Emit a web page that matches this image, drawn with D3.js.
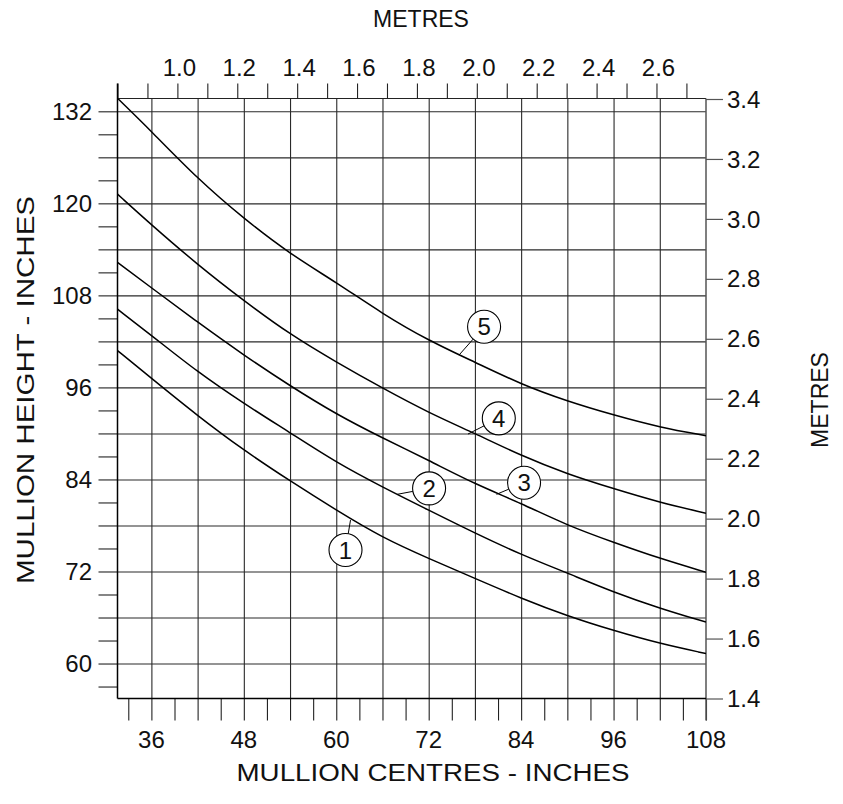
<!DOCTYPE html>
<html>
<head>
<meta charset="utf-8">
<script src="https://cdn.jsdelivr.net/npm/d3@7"></script>
<style>
  html, body { margin: 0; padding: 0; background: #fff; }
  svg { display: block; }
  text { font-family: "Liberation Sans", Arial, Helvetica, sans-serif; fill: #111; }
</style>
</head>
<body>
<svg id="chart" width="843" height="804"></svg>
<script>
// ---------------- DATA ----------------
// mullion centres (inches) at which the curves were read
const centres = [31.6, 36, 42, 48, 54, 60, 66, 72, 78, 84, 90, 96, 102, 108];
// mullion height (inches) for each curve
const curve1 = [100.8, 97.2, 92.3, 87.8, 83.8, 80.0, 76.4, 73.7, 71.1, 68.5, 66.2, 64.3, 62.6, 61.3];
const curve2 = [106.2, 102.8, 98.0, 93.9, 90.1, 86.2, 83.0, 80.0, 77.0, 74.2, 71.8, 69.3, 67.2, 65.4];
const curve3 = [112.3, 109.0, 104.5, 100.2, 96.2, 92.5, 89.4, 86.5, 83.4, 80.9, 78.0, 75.8, 73.7, 71.9];
const curve4 = [121.2, 117.2, 112.0, 107.3, 102.9, 99.3, 95.9, 92.7, 90.0, 87.1, 84.7, 82.8, 81.0, 79.6];
const curve5 = [133.7, 129.4, 123.2, 118.0, 113.4, 109.7, 105.6, 102.1, 99.3, 96.4, 94.2, 92.4, 90.8, 89.7];
const curveNames = ["1", "2", "3", "4", "5"];
// callout bubble centre and point on curve (data units: inches, inches)
const calloutCentre = [[61.2, 74.8], [72.05, 82.84], [84.38, 83.57], [81.1, 91.97], [79.19, 103.91]];
const calloutTarget = [[61.85, 78.7], [67.9, 82.06], [80.8, 82.06], [77.1, 89.92], [75.94, 100.22]];

// axis ticks / labels
const bottomTicks = d3.range(33, 109, 3);
const bottomLabels = [36, 48, 60, 72, 84, 96, 108];
const leftTicks = d3.range(57, 133, 3);
const leftLabels = [60, 72, 84, 96, 108, 120, 132];
const gridX = d3.range(36, 108, 6);
const gridY = d3.range(60, 133, 6);
const topTicks = d3.range(8, 28).map(d => d / 10);
const topLabels = [1.0, 1.2, 1.4, 1.6, 1.8, 2.0, 2.2, 2.4, 2.6];
const rightLabels = [1.4, 1.6, 1.8, 2.0, 2.2, 2.4, 2.6, 2.8, 3.0, 3.2, 3.4];

// ---------------- LAYOUT ----------------
const L = 117.5, R = 706, T = 98.5, B = 698.5;
const svg = d3.select("#chart");

const x = d3.scaleLinear().domain([31.6, 108]).range([L, R]);
const y = d3.scaleLinear().domain([55.44, 133.67]).range([B, T]);
const xm = d3.scaleLinear().domain([0.8, 2.7654]).range([L, R]);
const ym = d3.scaleLinear().domain([1.4, 3.4]).range([B, 99]);

// grid
const grid = svg.append("g");
grid.append("g").attr("transform", `translate(0,${B})`)
  .call(d3.axisBottom(x).tickValues(gridX).tickSize(-(B - T)).tickFormat(""))
  .call(g => g.select(".domain").remove())
  .selectAll("line").attr("stroke", "#2a2a2a").attr("stroke-width", 1.1);
grid.append("g").attr("transform", `translate(${L},0)`)
  .call(d3.axisLeft(y).tickValues(gridY).tickSize(-(R - L)).tickFormat(""))
  .call(g => g.select(".domain").remove())
  .selectAll("line").attr("stroke", "#2a2a2a").attr("stroke-width", 1.1);

// outer ticks
svg.append("g").attr("transform", `translate(0,${B})`)
  .call(d3.axisBottom(x).tickValues(bottomTicks).tickSize(22).tickFormat(""))
  .call(g => g.select(".domain").remove())
  .selectAll("line").attr("stroke", "#222").attr("stroke-width", 1.1);
svg.append("g").attr("transform", `translate(${L},0)`)
  .call(d3.axisLeft(y).tickValues(leftTicks).tickSize(19).tickFormat(""))
  .call(g => g.select(".domain").remove())
  .selectAll("line").attr("stroke", "#222").attr("stroke-width", 1.1);
svg.append("g").attr("transform", `translate(0,${T})`)
  .call(d3.axisTop(xm).tickValues(topTicks).tickSize(15).tickFormat(""))
  .call(g => g.select(".domain").remove())
  .selectAll("line").attr("stroke", "#222").attr("stroke-width", 1.1);
svg.append("g").attr("transform", `translate(${R},0)`)
  .call(d3.axisRight(ym).tickValues(rightLabels).tickSize(17).tickFormat(""))
  .call(g => g.select(".domain").remove())
  .selectAll("line").attr("stroke", "#555").attr("stroke-width", 1.2);

// frame
svg.append("line").attr("x1", L).attr("x2", R).attr("y1", T).attr("y2", T).attr("stroke", "#222").attr("stroke-width", 1.2);
svg.append("line").attr("x1", R).attr("x2", R).attr("y1", T).attr("y2", B + 22).attr("stroke", "#555").attr("stroke-width", 1.5);
svg.append("line").attr("x1", L).attr("x2", L).attr("y1", T - 15).attr("y2", B).attr("stroke", "#000").attr("stroke-width", 1.5);
svg.append("line").attr("x1", L).attr("x2", R).attr("y1", B).attr("y2", B).attr("stroke", "#000").attr("stroke-width", 1.5);

// tick labels
const fs = 24;
svg.append("g").selectAll("text").data(bottomLabels).join("text")
  .attr("x", d => x(d)).attr("y", 748).attr("text-anchor", "middle")
  .attr("font-size", fs).text(d => d);
svg.append("g").selectAll("text").data(leftLabels).join("text")
  .attr("x", 92).attr("y", d => y(d)).attr("dy", "0.36em").attr("text-anchor", "end")
  .attr("font-size", fs).text(d => d);
svg.append("g").selectAll("text").data(topLabels).join("text")
  .attr("x", d => xm(d) + 2).attr("y", 76).attr("text-anchor", "middle")
  .attr("font-size", fs).text(d => d.toFixed(1));
svg.append("g").selectAll("text").data(rightLabels).join("text")
  .attr("x", 727).attr("y", d => ym(d)).attr("dy", "0.36em").attr("text-anchor", "start")
  .attr("font-size", fs).text(d => d.toFixed(1));

// axis titles
svg.append("text").attr("x", 421).attr("y", 27).attr("text-anchor", "middle")
  .attr("font-size", 23).text("METRES");
svg.append("text").attr("x", 433).attr("y", 781).attr("text-anchor", "middle")
  .attr("font-size", 23).attr("textLength", 393).attr("lengthAdjust", "spacingAndGlyphs")
  .text("MULLION CENTRES - INCHES");
svg.append("text").attr("transform", "translate(34,390) rotate(-90)").attr("text-anchor", "middle")
  .attr("font-size", 23).attr("textLength", 388).attr("lengthAdjust", "spacingAndGlyphs")
  .text("MULLION HEIGHT - INCHES");
svg.append("text").attr("transform", "translate(828,400) rotate(-90)").attr("text-anchor", "middle")
  .attr("font-size", 23).text("METRES");

// curves
svg.append("clipPath").attr("id", "plotclip").append("rect")
  .attr("x", L).attr("y", T).attr("width", R - L).attr("height", B - T);
const series = [curve1, curve2, curve3, curve4, curve5];
const line = d3.line().x(d => x(d[0])).y(d => y(d[1])).curve(d3.curveBasis);
svg.append("g").attr("clip-path", "url(#plotclip)")
  .selectAll("path").data(series).join("path")
  .attr("d", s => line(centres.map((c, i) => [c, s[i]])))
  .attr("fill", "none").attr("stroke", "#000").attr("stroke-width", 1.5);

// callouts
const r = 16.5;
const callouts = svg.append("g");
curveNames.forEach((name, i) => {
  const cx = x(calloutCentre[i][0]), cy = y(calloutCentre[i][1]);
  const tx = x(calloutTarget[i][0]), ty = y(calloutTarget[i][1]);
  const dx = tx - cx, dy = ty - cy, len = Math.hypot(dx, dy);
  callouts.append("line")
    .attr("x1", cx + dx / len * r).attr("y1", cy + dy / len * r)
    .attr("x2", tx).attr("y2", ty).attr("stroke", "#000").attr("stroke-width", 1);
  callouts.append("circle").attr("cx", cx).attr("cy", cy).attr("r", r)
    .attr("fill", "#fff").attr("stroke", "#000").attr("stroke-width", 1.1);
  callouts.append("text").attr("x", cx).attr("y", cy).attr("dy", "0.36em")
    .attr("text-anchor", "middle").attr("font-size", 24).text(name);
});
</script>
</body>
</html>
